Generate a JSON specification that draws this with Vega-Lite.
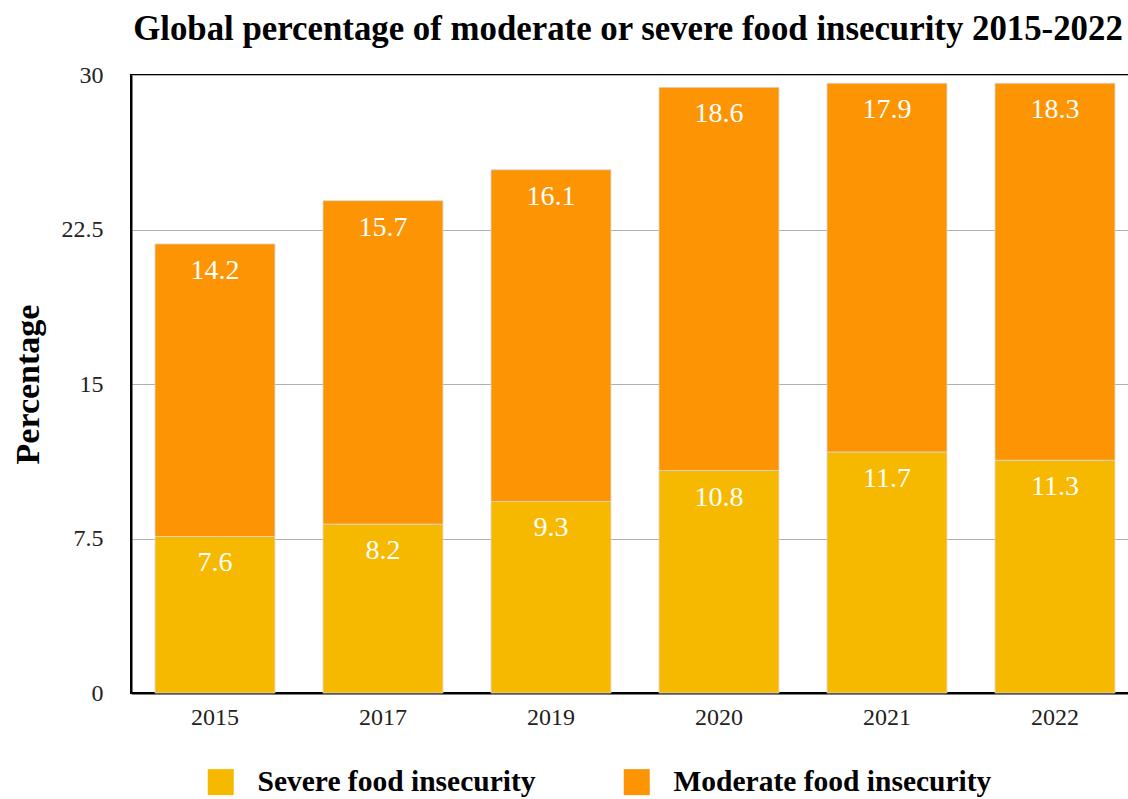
{
  "$schema": "https://vega.github.io/schema/vega-lite/v6.json",
  "width": 1008,
  "height": 618,
  "autosize": {"type": "none"},
  "padding": {"left": 131, "top": 75, "right": 0, "bottom": 106},
  "background": "white",
  "title": {
    "text": "Global percentage of moderate or severe food insecurity 2015-2022",
    "font": "Liberation Serif",
    "fontSize": 34.8,
    "fontWeight": "bold",
    "color": "#000000",
    "anchor": "middle",
    "dx": -7,
    "offset": 15
  },
  "config": {
    "view": {"stroke": "#000000", "strokeWidth": 2},
    "font": "Liberation Serif"
  },
  "data": {
    "values": [
      {"year": "2015", "type": "Severe food insecurity", "k": 1, "value": 7.6},
      {"year": "2015", "type": "Moderate food insecurity", "k": 2, "value": 14.2},
      {"year": "2017", "type": "Severe food insecurity", "k": 1, "value": 8.2},
      {"year": "2017", "type": "Moderate food insecurity", "k": 2, "value": 15.7},
      {"year": "2019", "type": "Severe food insecurity", "k": 1, "value": 9.3},
      {"year": "2019", "type": "Moderate food insecurity", "k": 2, "value": 16.1},
      {"year": "2020", "type": "Severe food insecurity", "k": 1, "value": 10.8},
      {"year": "2020", "type": "Moderate food insecurity", "k": 2, "value": 18.6},
      {"year": "2021", "type": "Severe food insecurity", "k": 1, "value": 11.7},
      {"year": "2021", "type": "Moderate food insecurity", "k": 2, "value": 17.9},
      {"year": "2022", "type": "Severe food insecurity", "k": 1, "value": 11.3},
      {"year": "2022", "type": "Moderate food insecurity", "k": 2, "value": 18.3}
    ]
  },
  "encoding": {
    "x": {
      "field": "year",
      "type": "nominal",
      "scale": {"paddingInner": 0.286, "paddingOuter": 0.143},
      "axis": {
        "title": null,
        "labelAngle": 0,
        "labelFont": "Liberation Serif",
        "labelFontSize": 24,
        "labelColor": "#222222",
        "labelPadding": 12,
        "ticks": false,
        "domainColor": "#000000",
        "domainWidth": 2
      }
    },
    "y": {
      "field": "value",
      "type": "quantitative",
      "stack": "zero",
      "scale": {"domain": [0, 30], "nice": false},
      "axis": {
        "values": [0, 7.5, 15, 22.5, 30],
        "format": ".1~f",
        "title": "Percentage",
        "titleFont": "Liberation Serif",
        "titleFontSize": 34,
        "titleFontWeight": "bold",
        "titleColor": "#000000",
        "titleX": -103,
        "titleY": 309,
        "titleAngle": -90,
        "titleAlign": "center",
        "titleBaseline": "middle",
        "labelFont": "Liberation Serif",
        "labelFontSize": 24,
        "labelColor": "#222222",
        "labelPadding": 28,
        "ticks": false,
        "domainColor": "#000000",
        "domainWidth": 2,
        "gridColor": "#b0b0b0",
        "gridWidth": 1.2
      }
    },
    "order": {"field": "k", "type": "quantitative"}
  },
  "layer": [
    {
      "mark": {"type": "bar", "stroke": "#d8d8d8", "strokeWidth": 0.8},
      "encoding": {
        "color": {
          "field": "type",
          "type": "nominal",
          "scale": {
            "domain": ["Severe food insecurity", "Moderate food insecurity"],
            "range": ["#F6B900", "#FC9404"]
          },
          "legend": {
            "title": null,
            "orient": "none",
            "direction": "horizontal",
            "legendX": 75,
            "legendY": 692,
            "symbolType": "square",
            "symbolSize": 676,
            "symbolStrokeWidth": 0,
            "labelFont": "Liberation Serif",
            "labelFontSize": 29.5,
            "labelFontWeight": "bold",
            "labelColor": "#000000",
            "labelOffset": 22,
            "labelLimit": 400,
            "columnPadding": 86
          }
        }
      }
    },
    {
      "mark": {
        "type": "text",
        "color": "white",
        "font": "Liberation Serif",
        "fontSize": 28,
        "baseline": "middle",
        "dy": 27
      },
      "encoding": {
        "detail": {"field": "type"},
        "text": {"field": "value", "type": "quantitative", "format": ".1f"}
      }
    }
  ]
}
